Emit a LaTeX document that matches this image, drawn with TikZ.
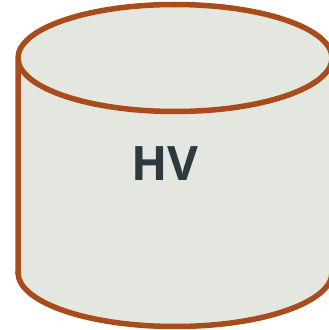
\documentclass[tikz,border=0pt]{standalone}
\usepackage{fontspec}
\setmainfont{Open Sans}
\definecolor{drumfill}{HTML}{E4E7E0}
\definecolor{drumline}{HTML}{A94C1B}
\definecolor{drumtext}{HTML}{2D3B3F}
\begin{document}
\begin{tikzpicture}[x=1pt,y=1pt,line cap=round,line join=round,font=\fontsize{47.5}{47.5}\selectfont\bfseries]
			\useasboundingbox (0,0) rectangle (329,330);
			\clip (0,0) rectangle (329,330);
			\fill[drumfill] (18,272) -- (18,57.5) arc[start angle=180,end angle=360,x radius=157,y radius=54] -- (332,272) arc[start angle=0,end angle=180,x radius=157,y radius=53] -- cycle;
			\draw[drumline,line width=5.5pt] (18,57.5) -- (18,272) arc[start angle=180,end angle=-180,x radius=157,y radius=53.5];
			\draw[drumline,line width=5.5pt] (18,57.5) arc[start angle=180,end angle=360,x radius=157,y radius=54];
			\node[drumtext,inner sep=0pt] (hv) at (165,166) {HV};
		\end{tikzpicture}
\end{document}
